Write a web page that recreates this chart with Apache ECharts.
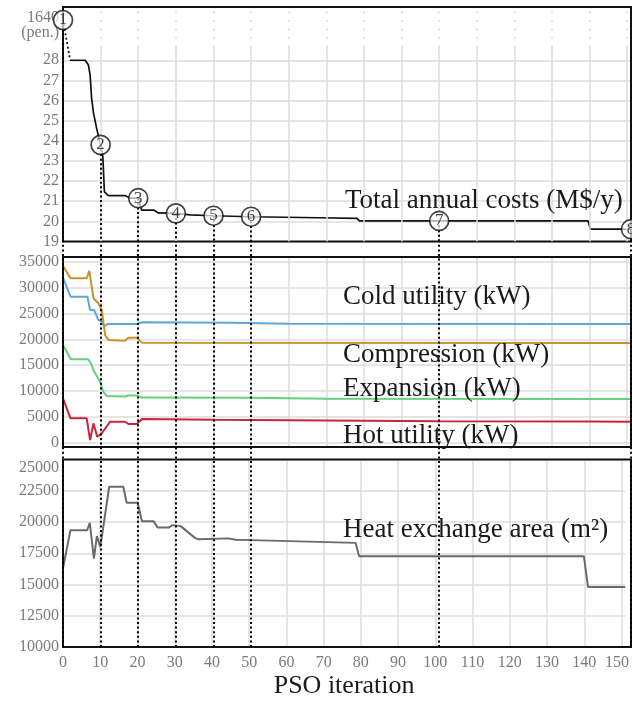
<!DOCTYPE html>
<html><head><meta charset="utf-8">
<script src="https://cdn.jsdelivr.net/npm/echarts@6/dist/echarts.min.js"></script>
<style>html,body{margin:0;padding:0;background:#fff}#c{width:632px;height:702px}</style>
</head><body><div id="c"></div>
<script>
// ================= DATA =================
const xTicks = [0,10,20,30,40,50,60,70,80,90,100,110,120,130,140,150];
const X_MAX = 151;

// Total annual costs (M$/y); first value is the penalised cost at iteration 0
const PENALTY = 1640;
const costTicks = [19,20,21,22,23,24,25,26,27,28];
const costIter = [0, 1.9, 5.9, 6.75, 7.2, 7.6, 8.1, 9.0, 10, 10.6, 11.0, 12.1, 16.5, 17.9, 20, 20.9, 24.1, 25.4, 30, 33.8, 40, 50, 68, 78.2, 78.8, 139.6, 140.2, 151];
const costVal  = [1640, 28, 28, 27.77, 27.28, 26.13, 25.39, 24.57, 23.8, 23.19, 21.47, 21.28, 21.28, 21.15, 21.15, 20.56, 20.56, 20.42, 20.4, 20.32, 20.28, 20.23, 20.18, 20.15, 20.02, 20.02, 19.61, 19.61];

// numbered solutions
const markerIter = [0, 10, 20, 30, 40, 50, 100, 151];
const markerCost = [1640, 23.8, 21.15, 20.4, 20.28, 20.23, 20.02, 19.61];
const markerLabel = ['1','2','3','4','5','6','7','8'];

// Energy flows (kW)
const powerTicks = [0,5000,10000,15000,20000,25000,30000,35000];
const coldIter = [0, 2.0, 6.5, 7.2, 8.3, 9.4, 10.3, 10.9, 11.8, 19.6, 21.0, 45, 60, 151];
const coldVal  = [32000, 28300, 28300, 25700, 25700, 23770, 23450, 22470, 23000, 23000, 23330, 23250, 23050, 23000];
const compIter = [0, 2.0, 6.3, 7.0, 8.1, 9.4, 10.3, 11.2, 12.1, 16.5, 17.4, 19.6, 21.0, 151];
const compVal  = [34300, 31880, 31880, 33300, 28000, 27020, 25720, 20860, 19890, 19750, 20340, 20340, 19370, 19300];
const expIter  = [0, 2.1, 6.7, 7.4, 8.3, 9.85, 10.7, 11.6, 16.5, 17.4, 19.6, 21.0, 50, 70, 151];
const expVal   = [18900, 16140, 16140, 15360, 13730, 11780, 9840, 9000, 8900, 9100, 9100, 8700, 8650, 8450, 8400];
const hotIter  = [0, 2.0, 6.3, 7.2, 8.1, 9.1, 10.3, 12.5, 16.5, 17.4, 19.6, 21.0, 40, 70, 100, 140, 151];
const hotVal   = [8550, 4670, 4670, 450, 3690, 1090, 1750, 4000, 4000, 3560, 3560, 4530, 4400, 4250, 4100, 4050, 4000];

// Heat exchange area (m2)
const areaTicks = [10000,12500,15000,17500,20000,22500,25000];
const areaIter = [0, 2.0, 6.5, 7.2, 8.3, 9.1, 10.0, 10.9, 12.4, 16.2, 17.1, 20.05, 21.2, 24.3, 25.4, 28.5, 29.4, 31.6, 32.9, 35.6, 36.5, 44.5, 46.3, 50.7, 78.6, 79.5, 139.9, 141, 151];
const areaVal  = [16300, 19350, 19350, 19940, 17080, 18870, 18010, 19750, 22820, 22820, 21540, 21540, 20070, 20070, 19570, 19570, 19750, 19670, 19350, 18690, 18620, 18690, 18580, 18550, 18330, 17270, 17270, 14810, 14810];

// ================= LAYOUT / STYLE =================
const W = 632, H = 702;
const L = 63, R = 1;
const P1 = {top: 7, bottom: 241.5};
const P2 = {top: 257, bottom: 447};
const P3 = {top: 459.5, bottom: 647};
const COST_MIN = 19, COST_MAX = 30.56, PEN_POS = 30, BREAK_LO = 28.65;
const FONT = "'Liberation Serif', 'Times New Roman', serif";
const TICK_COLOR = '#7a7a7a';
const GRID_COLOR = '#dcdcdc';
const costPos = v => (v >= PENALTY ? PEN_POS : v);
const pairs = (xs, ys, f) => xs.map((x, i) => [x, f ? f(ys[i]) : ys[i]]);

const grid = p => ({left: L, right: R, top: p.top, bottom: H - p.bottom, containLabel: false});
const baseLabel = {fontFamily: FONT, fontSize: 16, color: TICK_COLOR};

const xAxisBase = (idx, showSplit, showLabel) => ({
  type: 'value', gridIndex: idx, min: 0, max: X_MAX,
  axisLine: {show: false}, axisTick: {show: false, customValues: xTicks},
  splitLine: {show: showSplit, lineStyle: {color: GRID_COLOR, width: 1.5}},
  axisLabel: Object.assign({show: showLabel, customValues: xTicks, margin: 8,
    formatter: v => (v === 150 ? '{e|150}' : String(v)),
    rich: {e: {fontFamily: FONT, fontSize: 16, color: TICK_COLOR, padding: [0, 9, 0, 0]}}}, baseLabel)
});

// top panel vertical grid: solid below the axis break, dotted inside it
const topGridLines = [];
xTicks.filter(v => v > 0).forEach(v => {
  topGridLines.push([{coord: [v, COST_MIN], lineStyle: {color: GRID_COLOR, width: 1.5, type: 'solid'}}, {coord: [v, BREAK_LO]}]);
  topGridLines.push([{coord: [v, BREAK_LO], lineStyle: {color: '#cfcfcf', width: 1.5, type: [1.5, 7]}}, {coord: [v, COST_MAX]}]);
});

const dotted = {color: '#000', width: 2, type: [2, 2.6]};
const mlBase = {silent: true, symbol: ['none', 'none'], label: {show: false}, animation: false, emphasis: {disabled: true}};

const line = (xi, data, color, width, extra) => Object.assign({
  type: 'line', xAxisIndex: xi, yAxisIndex: xi, data, showSymbol: false, symbol: 'none',
  lineStyle: {color, width}, animation: false, silent: true, z: 3
}, extra || {});

const plain = v => String(v);

const option = {
  animation: false,
  backgroundColor: '#fff',
  grid: [grid(P1), grid(P2), grid(P3), grid({top: P1.bottom, bottom: P3.bottom})],
  xAxis: [
    xAxisBase(0, false, false),
    xAxisBase(1, true, false),
    Object.assign(xAxisBase(2, true, true), {
      name: 'PSO iteration', nameLocation: 'middle', nameGap: 26,
      nameTextStyle: {fontFamily: FONT, fontSize: 26, color: '#1a1a1a', verticalAlign: 'top'}
    }),
    {type: 'value', gridIndex: 3, min: 0, max: X_MAX, show: false}
  ],
  yAxis: [
    {type: 'value', gridIndex: 0, min: COST_MIN, max: COST_MAX,
      axisLine: {show: false}, axisTick: {show: false, customValues: costTicks.concat([PEN_POS])},
      splitLine: {show: true, lineStyle: {color: costTicks.map(() => GRID_COLOR).concat(['rgba(0,0,0,0)']), width: 1.5}},
      axisLabel: Object.assign({customValues: costTicks.concat([PEN_POS]), margin: 4,
        formatter: v => (v === PEN_POS ? '{s|}\n{p|' + PENALTY + '}\n{p|(pen.)}' : String(v)),
        rich: {s: {lineHeight: 10, fontSize: 10}, p: {fontFamily: FONT, fontSize: 16, color: TICK_COLOR, lineHeight: 15, align: 'right'}}}, baseLabel)},
    {type: 'value', gridIndex: 1, min: -900, max: 36000,
      axisLine: {show: false}, axisTick: {show: false, customValues: powerTicks},
      splitLine: {show: true, lineStyle: {color: GRID_COLOR, width: 1.5}},
      axisLabel: Object.assign({customValues: powerTicks, margin: 4, formatter: plain}, baseLabel)},
    {type: 'value', gridIndex: 2, min: 10000, max: 25000, interval: 2500,
      axisLine: {show: false}, axisTick: {show: false},
      splitLine: {show: true, lineStyle: {color: GRID_COLOR, width: 1.5}},
      axisLabel: Object.assign({margin: 4, verticalAlignMaxLabel: 'top', formatter: plain}, baseLabel)},
    {type: 'value', gridIndex: 3, min: 0, max: 1, show: false}
  ],
  series: [
    // top panel grid lines
    {type: 'line', xAxisIndex: 0, yAxisIndex: 0, data: [], z: 1, silent: true,
      markLine: Object.assign({data: topGridLines}, mlBase)},
    // penalty -> first feasible cost (through the axis break)
    line(0, [[costIter[0], costPos(costVal[0])], [costIter[1], costVal[1]]], '#111', 1.6, {lineStyle: {color: '#111', width: 1.8, type: [2, 2.5]}}),
    // total annual costs
    line(0, pairs(costIter.slice(1), costVal.slice(1)), '#111', 1.7),
    // dotted drop lines in top panel
    {type: 'line', xAxisIndex: 0, yAxisIndex: 0, data: [], z: 4, silent: true,
      markLine: Object.assign({lineStyle: dotted,
        data: markerIter.map((it, i) => [{coord: [it, costPos(markerCost[i])]}, {coord: [it, COST_MIN]}])}, mlBase)},
    // middle panel
    line(1, pairs(coldIter, coldVal), '#5ea7db', 2),
    line(1, pairs(compIter, compVal), '#c39429', 2),
    line(1, pairs(expIter, expVal), '#62d07c', 2),
    line(1, pairs(hotIter, hotVal), '#c8263c', 2),
    // bottom panel
    line(2, pairs(areaIter, areaVal), '#6a6a6a', 2),
    // dotted drop lines through middle/bottom panels
    {type: 'line', xAxisIndex: 3, yAxisIndex: 3, data: [[0, -1]], symbol: 'none', lineStyle: {opacity: 0}, z: 4, silent: true,
      markLine: Object.assign({lineStyle: dotted, data: markerIter.map(it => ({xAxis: it}))}, mlBase)},
    // numbered circles
    {type: 'scatter', xAxisIndex: 0, yAxisIndex: 0, z: 10, silent: true,
      data: markerIter.map((it, i) => ({value: [it, costPos(markerCost[i])], name: markerLabel[i]})),
      symbol: 'circle', symbolSize: 19,
      itemStyle: {color: 'rgba(255,255,255,0.85)', borderColor: '#111', borderWidth: 1.7},
      label: {show: true, position: 'inside', formatter: p => p.name, fontFamily: FONT, fontSize: 17, color: '#111'}}
  ],
  graphic: {elements: [
    ...[P1, P2, P3].map(p => ({type: 'rect', z: 5, silent: true,
      shape: {x: L, y: p.top, width: W - L - R, height: p.bottom - p.top},
      style: {fill: 'none', stroke: '#111', lineWidth: 2}})),
    ...[
      ['Total annual costs (M$/y)', 345, 201],
      ['Cold utility (kW)', 343, 297],
      ['Compression (kW)', 343, 355],
      ['Expansion (kW)', 343, 389],
      ['Hot utility (kW)', 343, 436],
      ['Heat exchange area (m\u00B2)', 343, 530]
    ].map(t => ({type: 'text', z: 6, silent: true, x: t[1], y: t[2],
      style: {text: t[0], fontFamily: FONT, fontSize: 27, fill: '#1a1a1a', verticalAlign: 'middle', align: 'left'}}))
  ]}
};

const chart = echarts.init(document.getElementById('c'), null, {renderer: 'canvas', width: W, height: H});
chart.setOption(option);
</script>
</body></html>
